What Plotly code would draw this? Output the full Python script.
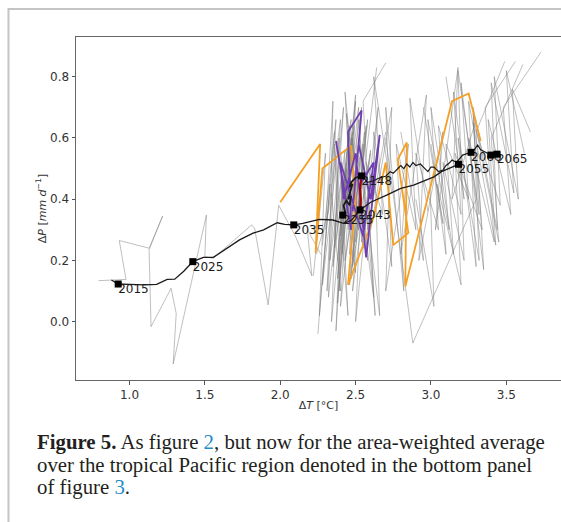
import plotly.graph_objects as go

# ---------------- data ----------------
# single early gray trajectory
early_x = [0.795, 0.977, 0.932, 1.13, 1.22, 1.13, 1.143, 1.276, 1.31, 1.29, 1.51, 1.50, 1.556, 1.81, 1.83, 1.92, 1.99, 2.10, 2.21, 2.18, 2.27]
early_y = [0.134, 0.138, 0.265, 0.24, 0.345, 0.235, -0.016, 0.109, 0.027, -0.138, 0.348, 0.212, 0.207, 0.316, 0.305, 0.055, 0.38, 0.28, 0.15, 0.30, 0.22]

# dense gray cluster around the stabilisation point
mid1_x = [2.22, 2.30, 2.26, 2.36, 2.31, 2.42, 2.35, 2.47, 2.40, 2.52, 2.45]
mid1_y = [0.15, 0.55, 0.02, 0.62, 0.10, 0.70, 0.18, 0.66, 0.05, 0.58, 0.30]
mid2_x = [2.25, 2.33, 2.28, 2.39, 2.34, 2.44, 2.38, 2.50, 2.43, 2.56, 2.48, 2.60]
mid2_y = [-0.04, 0.45, 0.12, 0.60, 0.00, 0.52, 0.14, 0.74, 0.20, 0.62, 0.10, 0.55]
mid3_x = [2.30, 2.35, 2.32, 2.41, 2.37, 2.46, 2.41, 2.52, 2.46, 2.58, 2.50, 2.64]
mid3_y = [0.30, 0.72, 0.08, 0.48, -0.03, 0.64, 0.22, 0.70, 0.12, 0.66, 0.26, 0.83]
mid4_x = [2.34, 2.40, 2.36, 2.45, 2.40, 2.50, 2.44, 2.55, 2.48, 2.62, 2.55, 2.70]
mid4_y = [0.42, 0.10, 0.58, 0.02, 0.50, 0.16, 0.68, 0.24, 0.60, 0.08, 0.72, 0.845]
mid5_x = [2.28, 2.37, 2.33, 2.43, 2.38, 2.48, 2.43, 2.53, 2.47, 2.57, 2.52]
mid5_y = [0.25, 0.66, 0.20, 0.56, 0.06, 0.62, 0.32, 0.54, 0.14, 0.64, 0.36]
mid6_x = [2.38, 2.45, 2.40, 2.50, 2.46, 2.55, 2.50, 2.60, 2.54, 2.65, 2.58, 2.70]
mid6_y = [0.20, 0.60, 0.28, 0.72, 0.22, 0.58, 0.00, 0.48, 0.26, 0.70, 0.30, 0.62]
mid7_x = [2.24, 2.32, 2.40, 2.36, 2.44, 2.39, 2.49, 2.44, 2.54, 2.48, 2.60, 2.55]
mid7_y = [0.22, 0.36, 0.66, 0.24, 0.50, 0.10, 0.64, 0.38, 0.70, 0.18, 0.56, 0.40]
mid8_x = [2.40, 2.48, 2.43, 2.52, 2.47, 2.58, 2.52, 2.63, 2.57, 2.68, 2.62, 2.74]
mid8_y = [0.55, 0.28, 0.75, 0.30, 0.60, 0.20, 0.66, 0.02, 0.52, 0.35, 0.80, 0.42]

# gray trajectories continuing to higher warming
right0_x = [2.55, 2.66, 2.62, 2.74, 2.70, 2.82, 2.77, 2.90, 2.86, 2.98]
right0_y = [0.45, 0.02, 0.62, 0.18, 0.70, 0.10, 0.58, 0.30, 0.73, 0.36]
right1_x = [2.60, 2.74, 2.70, 2.85, 2.80, 2.97, 2.92, 3.08, 3.03, 3.18, 3.14, 3.30]
right1_y = [0.30, 0.70, 0.10, 0.58, 0.22, 0.74, 0.20, 0.62, 0.30, 0.83, 0.40, 0.66]
right2_x = [2.70, 2.88, 3.30, 3.25, 3.42, 3.36, 3.56]
right2_y = [0.60, -0.07, 0.40, 0.60, 0.26, 0.70, 0.85]
right3_x = [2.80, 2.95, 2.90, 3.05, 3.00, 3.15, 3.10, 3.25, 3.20, 3.35, 3.30, 3.49]
right3_y = [0.62, 0.20, 0.55, 0.30, 0.70, 0.22, 0.58, 0.40, 0.78, 0.17, 0.62, 0.85]
right4_x = [2.90, 3.02, 2.98, 3.12, 3.08, 3.22, 3.18, 3.32, 3.28, 3.45, 3.40, 3.61]
right4_y = [0.40, 0.05, 0.66, 0.30, 0.52, 0.20, 0.82, 0.35, 0.68, 0.26, 0.60, 0.84]
right5_x = [3.00, 3.10, 3.05, 3.20, 3.15, 3.30, 3.25, 3.43, 3.38, 3.53, 3.48, 3.73]
right5_y = [0.58, 0.22, 0.64, 0.35, 0.75, 0.18, 0.72, 0.25, 0.66, 0.35, 0.70, 0.88]
right6_x = [2.95, 3.08, 3.04, 3.20, 3.16, 3.34, 3.28, 3.46, 3.42, 3.58, 3.54, 3.66]
right6_y = [0.70, 0.32, 0.45, 0.12, 0.55, 0.30, 0.65, 0.38, 0.80, 0.40, 0.76, 0.62]
right7_x = [3.10, 3.22, 3.18, 3.32, 3.28, 3.44, 3.40, 3.55, 3.50, 3.62]
right7_y = [0.80, 0.40, 0.60, 0.20, 0.70, 0.30, 0.78, 0.42, 0.82, 0.55]

orange_x = [2.00, 2.265, 2.235, 2.28, 2.47, 2.50, 2.45, 2.62, 2.70, 2.75, 2.85, 2.78, 2.84, 2.83, 3.14, 3.25, 3.33]
orange_y = [0.39, 0.58, 0.225, 0.50, 0.575, 0.40, 0.12, 0.34, 0.52, 0.25, 0.29, 0.53, 0.585, 0.115, 0.72, 0.745, 0.59]

purple_x = [2.37, 2.47, 2.45, 2.54, 2.48, 2.52, 2.60, 2.66, 2.57, 2.50, 2.42, 2.40, 2.55, 2.62, 2.52]
purple_y = [0.59, 0.30, 0.62, 0.69, 0.36, 0.58, 0.40, 0.61, 0.21, 0.55, 0.40, 0.52, 0.28, 0.52, 0.44]

red_x = [2.53, 2.535, 2.53, 2.535]
red_y = [0.37, 0.40, 0.43, 0.465]

# smoothed (black) trajectories
main_x = [0.88, 0.925, 1.00, 1.10, 1.18, 1.25, 1.30, 1.36, 1.42, 1.49, 1.556, 1.65, 1.73, 1.82, 1.89, 1.98, 2.03,
          2.09, 2.15, 2.26, 2.35, 2.42, 2.47, 2.53, 2.60, 2.71, 2.80, 2.885, 2.97, 3.02, 3.07, 3.095, 3.15, 3.183]
main_y = [0.136, 0.123, 0.122, 0.12, 0.122, 0.138, 0.139, 0.165, 0.196, 0.21, 0.21, 0.24, 0.267, 0.289, 0.30, 0.323, 0.318,
          0.316, 0.321, 0.334, 0.332, 0.321, 0.33, 0.365, 0.39, 0.414, 0.435, 0.446, 0.463, 0.473, 0.49, 0.495, 0.506, 0.514]

upper_x = [2.54, 2.58, 2.62, 2.66, 2.70, 2.73, 2.75, 2.78, 2.80, 2.82, 2.84, 2.86, 2.88, 2.90, 2.93, 2.96, 2.98, 3.00,
           3.02, 3.05, 3.08, 3.10, 3.12, 3.14, 3.17, 3.21, 3.24, 3.266, 3.29, 3.31, 3.33, 3.37, 3.40, 3.44, 3.46]
upper_y = [0.476, 0.455, 0.46, 0.47, 0.475, 0.49, 0.485, 0.50, 0.51, 0.50, 0.515, 0.505, 0.52, 0.51, 0.515, 0.50, 0.49, 0.505,
           0.505, 0.49, 0.495, 0.51, 0.517, 0.528, 0.52, 0.544, 0.55, 0.553, 0.563, 0.577, 0.561, 0.55, 0.544, 0.547, 0.555]

stab_x = [2.54, 2.50, 2.47, 2.46, 2.48, 2.46, 2.47, 2.45, 2.47, 2.46, 2.44, 2.42, 2.43, 2.415]
stab_y = [0.476, 0.47, 0.455, 0.44, 0.45, 0.42, 0.43, 0.40, 0.41, 0.38, 0.395, 0.38, 0.36, 0.348]

year_labels = ["2015", "2025", "2035", "2043", "2148", "2255", "2055", "2060", "2065"]
year_x = [0.925, 1.42, 2.09, 2.53, 2.54, 2.415, 3.183, 3.266, 3.438]
year_y = [0.123, 0.196, 0.316, 0.365, 0.476, 0.348, 0.514, 0.553, 0.547]
extra_x = [3.398]
extra_y = [0.544]

x_ticks = [1.0, 1.5, 2.0, 2.5, 3.0, 3.5]
x_tick_text = ["1.0", "1.5", "2.0", "2.5", "3.0", "3.5"]
y_ticks = [0.0, 0.2, 0.4, 0.6, 0.8]
y_tick_text = ["0.0", "0.2", "0.4", "0.6", "0.8"]

caption_lines = [
    "<b>Figure 5.</b> As figure <span style='color:#1f8bc9'>2</span>, but now for the area-weighted average",
    "over the tropical Pacific region denoted in the bottom panel",
    "of figure <span style='color:#1f8bc9'>3</span>.",
]

# ---------------- figure ----------------
fig = go.Figure()

gray_sets = [(early_x, early_y), (mid1_x, mid1_y), (mid2_x, mid2_y), (mid3_x, mid3_y), (mid4_x, mid4_y),
             (mid5_x, mid5_y), (mid6_x, mid6_y), (mid7_x, mid7_y), (mid8_x, mid8_y),
             (right0_x, right0_y), (right1_x, right1_y), (right2_x, right2_y), (right3_x, right3_y),
             (right4_x, right4_y), (right5_x, right5_y), (right6_x, right6_y), (right7_x, right7_y)]
for gx, gy in gray_sets:
    fig.add_trace(go.Scatter(x=gx, y=gy, mode="lines", line=dict(color="rgba(120,120,120,0.6)", width=0.8),
                             showlegend=False, hoverinfo="skip"))

fig.add_trace(go.Scatter(x=orange_x, y=orange_y, mode="lines", line=dict(color="#f5a025", width=1.8),
                         showlegend=False, hoverinfo="skip"))
fig.add_trace(go.Scatter(x=purple_x, y=purple_y, mode="lines", line=dict(color="#6f3fb0", width=1.8),
                         showlegend=False, hoverinfo="skip"))
fig.add_trace(go.Scatter(x=main_x, y=main_y, mode="lines", line=dict(color="#1a1a1a", width=1.3),
                         showlegend=False, hoverinfo="skip"))
fig.add_trace(go.Scatter(x=upper_x, y=upper_y, mode="lines", line=dict(color="#1a1a1a", width=1.2),
                         showlegend=False, hoverinfo="skip"))
fig.add_trace(go.Scatter(x=stab_x, y=stab_y, mode="lines", line=dict(color="#1a1a1a", width=1.8),
                         showlegend=False, hoverinfo="skip"))
fig.add_trace(go.Scatter(x=red_x, y=red_y, mode="lines", line=dict(color="#a00000", width=2.2),
                         showlegend=False, hoverinfo="skip"))
# year labels (text first, markers drawn on top as in the reference)
fig.add_trace(go.Scatter(x=year_x, y=year_y, mode="text", text=year_labels,
                         textposition="bottom right", marker=dict(size=1),
                         textfont=dict(family="DejaVu Sans", size=12, color="#1a1a1a"),
                         showlegend=False, hoverinfo="skip"))
fig.add_trace(go.Scatter(x=year_x + extra_x, y=year_y + extra_y, mode="markers",
                         marker=dict(symbol="square", size=7, color="black"),
                         showlegend=False, hoverinfo="skip"))

axis_font = dict(family="DejaVu Sans", size=12, color="#333333")
fig.update_xaxes(range=[0.645, 3.863], tickvals=x_ticks, ticktext=x_tick_text, ticks="outside", ticklen=3.5,
                 tickcolor="#555555", showline=True, linecolor="#666666", linewidth=1, mirror=True,
                 showgrid=False, zeroline=False, tickfont=axis_font,
                 title=dict(text="Δ<i>T</i> [°C]", font=dict(family="DejaVu Sans", size=11, color="#333333"),
                            standoff=0))
fig.update_yaxes(range=[-0.1904, 0.9296], tickvals=y_ticks, ticktext=y_tick_text, ticks="outside", ticklen=3.5,
                 tickcolor="#555555", showline=True, linecolor="#666666", linewidth=1, mirror=False,
                 showgrid=False, zeroline=False, tickfont=axis_font,
                 title=dict(text="Δ<i>P</i> [<i>mm d</i><sup>−1</sup>]",
                            font=dict(family="DejaVu Sans", size=11, color="#333333"), standoff=1))

# outer frame of the page crop
fig.add_shape(type="rect", xref="paper", yref="paper", x0=-0.1392, x1=1.3, y0=-0.8, y1=1.0816,
              line=dict(color="#c4c4c4", width=2), fillcolor="rgba(0,0,0,0)", layer="below")

cap_y = [-0.1808, -0.2478, -0.3120]
for line, cy in zip(caption_lines, cap_y):
    fig.add_annotation(text=line, xref="paper", yref="paper", x=-0.0845, y=cy, xanchor="left", yanchor="middle",
                       showarrow=False, font=dict(family="Liberation Serif", size=20.8, color="#231f20"))

fig.update_layout(width=561, height=522, margin=dict(l=76, r=0, t=37, b=142),
                  paper_bgcolor="white", plot_bgcolor="white", showlegend=False)

fig.write_html("out.html")
